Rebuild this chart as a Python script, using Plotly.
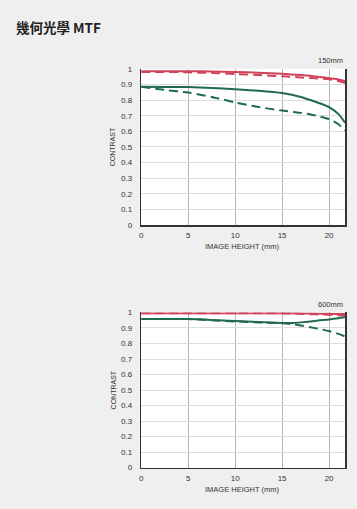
import plotly.graph_objects as go

# ---- data ----
x_top = [0, 2.5, 5, 7.5, 10, 12.5, 15, 17, 18, 19, 20, 21, 21.7]
top_red_solid = [0.985, 0.985, 0.985, 0.983, 0.98, 0.975, 0.968, 0.96, 0.955, 0.948, 0.94, 0.932, 0.922]
top_red_dash = [0.98, 0.98, 0.978, 0.973, 0.967, 0.96, 0.952, 0.945, 0.941, 0.937, 0.933, 0.922, 0.91]
top_green_solid = [0.885, 0.884, 0.883, 0.878, 0.87, 0.86, 0.845, 0.82, 0.80, 0.78, 0.755, 0.71, 0.655]
top_green_dash = [0.885, 0.865, 0.848, 0.82, 0.785, 0.755, 0.733, 0.718, 0.708, 0.695, 0.678, 0.645, 0.605]

x_bot = [0, 2.5, 5, 7.5, 10, 12.5, 15, 16, 17, 18, 19, 20, 21, 21.7]
bot_red_solid = [0.995, 0.995, 0.995, 0.995, 0.995, 0.995, 0.995, 0.995, 0.994, 0.993, 0.992, 0.991, 0.99, 0.99]
bot_red_dash = [0.995, 0.995, 0.995, 0.995, 0.995, 0.995, 0.994, 0.993, 0.991, 0.989, 0.987, 0.985, 0.982, 0.98]
bot_green_solid = [0.957, 0.957, 0.957, 0.952, 0.945, 0.938, 0.932, 0.932, 0.936, 0.942, 0.949, 0.955, 0.963, 0.97]
bot_green_dash = [0.957, 0.957, 0.957, 0.95, 0.942, 0.936, 0.93, 0.925, 0.916, 0.905, 0.893, 0.88, 0.862, 0.845]

x_ticks = [0, 5, 10, 15, 20]
y_ticks = [0, 0.1, 0.2, 0.3, 0.4, 0.5, 0.6, 0.7, 0.8, 0.9, 1]
y_ticktext = ["0", "0.1", "0.2", "0.3", "0.4", "0.5", "0.6", "0.7", "0.8", "0.9", "1"]
focal_labels = ["150mm", "600mm"]

RED = "#d0435a"
GREEN = "#1f6b4b"

W, H = 357, 509
fig = go.Figure()

series = [
    (x_top, top_red_solid, RED, "solid", "x", "y"),
    (x_top, top_red_dash, RED, "dash", "x", "y"),
    (x_top, top_green_solid, GREEN, "solid", "x", "y"),
    (x_top, top_green_dash, GREEN, "dash", "x", "y"),
    (x_bot, bot_red_solid, RED, "solid", "x2", "y2"),
    (x_bot, bot_red_dash, RED, "dash", "x2", "y2"),
    (x_bot, bot_green_solid, GREEN, "solid", "x2", "y2"),
    (x_bot, bot_green_dash, GREEN, "dash", "x2", "y2"),
]
for xs, ys, c, d, xa, ya in series:
    fig.add_trace(go.Scatter(x=xs, y=ys, mode="lines", xaxis=xa, yaxis=ya,
                             line=dict(color=c, width=2, dash="9px,5px" if d == "dash" else "solid",
                                       shape="spline", smoothing=0.6),
                             showlegend=False, hoverinfo="skip"))

xl, xr = 140 / W, 345 / W
top_dom = [1 - 225 / H, 1 - 66 / H]
bot_dom = [1 - 472 / H, 1 - 314 / H]

tickfont = dict(family="Liberation Sans, Arial, sans-serif", size=8, color="#333")

def xaxis(anchor):
    return dict(domain=[xl, xr], range=[0, 21.7], anchor=anchor, tickvals=x_ticks,
                showgrid=True, gridcolor="#b5b5b5", gridwidth=1, zeroline=False,
                showline=True, linecolor="#333", linewidth=1.5, ticks="", tickfont=tickfont,
                ticklabelstandoff=2, fixedrange=True)

def yaxis(anchor, dom):
    return dict(domain=dom, range=[0, 1.0], anchor=anchor, tickvals=y_ticks, ticktext=y_ticktext,
                showgrid=True, gridcolor="#dcdcdc", gridwidth=1, zeroline=False,
                showline=True, mirror=True, linecolor="#333", linewidth=1.5, ticks="",
                tickfont=tickfont, ticklabelstandoff=6, fixedrange=True)

fig.update_layout(
    width=W, height=H,
    margin=dict(l=0, r=0, t=0, b=0),
    paper_bgcolor="#efefef", plot_bgcolor="#ffffff",
    xaxis=xaxis("y"), yaxis=yaxis("x", top_dom),
    xaxis2=xaxis("y2"), yaxis2=yaxis("x2", bot_dom),
)

ann = []
ann.append(dict(text="<b>幾何光學 MTF</b>", x=12 / W, y=1 - 23 / H, xref="paper", yref="paper",
                xanchor="left", yanchor="middle", showarrow=False,
                font=dict(family="Noto Sans CJK TC, sans-serif", size=13.5, color="#222")))
for lab, ytop, ybot in [(focal_labels[0], 66, 225), (focal_labels[1], 314, 472)]:
    ann.append(dict(text=lab, x=xr, y=1 - (ytop - 8) / H, xref="paper", yref="paper",
                    xanchor="right", yanchor="middle", showarrow=False,
                    font=dict(family="Liberation Sans, Arial, sans-serif", size=7.5, color="#333")))
    ann.append(dict(text="CONTRAST", x=112 / W, y=1 - ((ytop + ybot) / 2) / H, xref="paper", yref="paper",
                    xanchor="center", yanchor="middle", showarrow=False, textangle=-90,
                    font=dict(family="Liberation Sans, sans-serif", size=7, color="#333")))
    ann.append(dict(text="IMAGE HEIGHT (mm)", x=242 / W, y=1 - (ybot + 22) / H,
                    xref="paper", yref="paper",
                    xanchor="center", yanchor="middle", showarrow=False,
                    font=dict(family="Liberation Sans, sans-serif", size=7.5, color="#333")))
fig.update_layout(annotations=ann)

fig.write_html("out.html", config={"displayModeBar": False, "staticPlot": True},
               post_script="document.body.style.margin='0';document.body.style.background='#efefef';"
                           "document.documentElement.style.overflow='hidden';")
